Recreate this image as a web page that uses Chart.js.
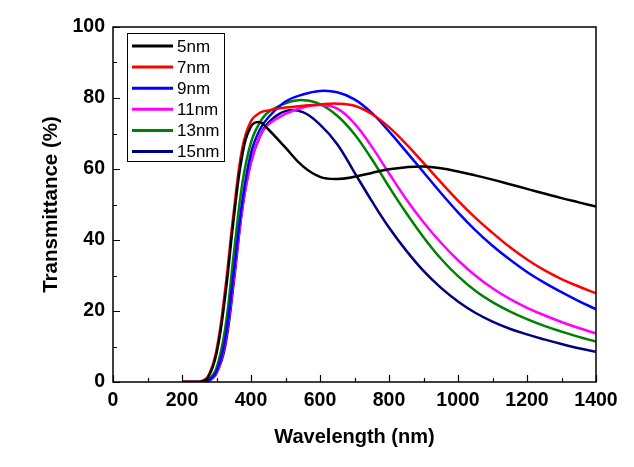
<!DOCTYPE html>
<html>
<head>
<meta charset="utf-8">
<script src="https://cdn.jsdelivr.net/npm/chart.js@4.4.1/dist/chart.umd.min.js"></script>
<style>
html,body{margin:0;padding:0;background:#fff;}
#wrap{width:634px;height:467px;}
</style>
</head>
<body>
<div id="wrap"><canvas id="c" width="634" height="467"></canvas></div>
<script>
const wavelengths = [200, 225, 250, 275, 300, 325, 350, 375, 400, 425, 450, 500, 550, 600, 650, 700, 750, 800, 850, 900, 950, 1000, 1050, 1100, 1150, 1200, 1250, 1300, 1350, 1400];
const seriesLabels = ['5nm', '7nm', '9nm', '11nm', '13nm', '15nm'];
const seriesColors = ['#000000', '#ff0000', '#0000ff', '#ff00ff', '#008000', '#000080'];
const t5nm  = [0, 0, 0, 1.2, 8, 24, 46, 64, 72, 73.2, 71.2, 66, 60.8, 57.8, 57.2, 57.8, 58.9, 59.9, 60.5, 60.7, 60.2, 59.3, 58.2, 57, 55.7, 54.4, 53.1, 51.8, 50.6, 49.4];
const t7nm  = [0, 0, 0, 1.5, 9, 26, 48, 66, 73.5, 75.8, 76.5, 77.3, 77.8, 78.2, 78.4, 77.8, 75.5, 71.8, 67, 61.7, 56.3, 51.1, 46.3, 42, 38, 34.5, 31.5, 29, 26.9, 25];
const t9nm  = [0, 0, 0, 0.3, 3, 12, 31, 51, 64.5, 71, 74.5, 79, 81, 82, 81.6, 79.6, 75.8, 70.6, 64.9, 59.1, 53.3, 47.8, 42.8, 38.4, 34.5, 31, 28, 25.3, 22.8, 20.5];
const t11nm = [0, 0, 0, 0.2, 2.5, 11, 29, 49, 62, 69, 72.5, 75.5, 77.3, 78, 77, 72.8, 66.3, 58.8, 51.5, 45, 39.3, 34.3, 30, 26.4, 23.4, 20.9, 18.8, 16.9, 15.2, 13.7];
const t13nm = [0, 0, 0, 0.5, 4, 15, 36, 56, 67.5, 73, 76, 78.5, 79.4, 78.3, 75, 69.8, 62.8, 55, 47.6, 40.8, 34.8, 29.8, 25.7, 22.5, 19.9, 17.7, 15.8, 14.2, 12.7, 11.4];
const t15nm = [0, 0, 0, 0.2, 2.5, 10, 28, 49, 62, 69, 73, 76.3, 76, 72.5, 67, 59, 51, 43.5, 37, 31.3, 26.6, 22.7, 19.5, 17, 15, 13.4, 12, 10.7, 9.5, 8.5];
const seriesValues = [t5nm, t7nm, t9nm, t11nm, t13nm, t15nm];
const xTicks = [0, 200, 400, 600, 800, 1000, 1200, 1400];
const yTicks = [0, 20, 40, 60, 80, 100];

const datasets = seriesLabels.map((lab, i) => ({
  label: lab,
  data: wavelengths.map((w, j) => ({x: w, y: seriesValues[i][j]})),
  borderColor: seriesColors[i],
  backgroundColor: seriesColors[i],
  borderWidth: 2.5,
  pointRadius: 0,
  tension: 0.4,
  fill: false
}));

const framePlugin = {
  id: 'frame',
  afterDatasetsDraw(chart) {
    const ctx = chart.ctx;
    const a = chart.chartArea;
    const xs = chart.scales.x, ys = chart.scales.y;
    ctx.save();
    ctx.strokeStyle = '#000';
    ctx.lineWidth = 1.5;
    ctx.strokeRect(a.left, a.top, a.right - a.left, a.bottom - a.top);
    ctx.lineWidth = 1.2;
    ctx.beginPath();
    for (let v = 0; v <= 1400; v += 100) {
      const px = Math.round(xs.getPixelForValue(v)) + 0.5;
      const len = (v % 200 === 0) ? 7 : 4;
      ctx.moveTo(px, a.bottom);
      ctx.lineTo(px, a.bottom - len);
    }
    for (let v = 0; v <= 100; v += 10) {
      const py = Math.round(ys.getPixelForValue(v)) + 0.5;
      const len = (v % 20 === 0) ? 7 : 4;
      ctx.moveTo(a.left, py);
      ctx.lineTo(a.left + len, py);
    }
    ctx.stroke();

    // legend box
    const bx = 127, by = 33, bw = 97, bh = 128;
    ctx.fillStyle = '#fff';
    ctx.fillRect(bx, by, bw, bh);
    ctx.lineWidth = 1;
    ctx.strokeStyle = '#000';
    ctx.strokeRect(bx + 0.5, by + 0.5, bw, bh);
    ctx.font = '17px "Liberation Sans", Arial, sans-serif';
    ctx.textBaseline = 'middle';
    ctx.textAlign = 'left';
    chart.data.datasets.forEach((ds, i) => {
      const y = 46 + i * 21.1;
      ctx.strokeStyle = ds.borderColor;
      ctx.lineWidth = 3;
      ctx.beginPath();
      ctx.moveTo(132, y);
      ctx.lineTo(173, y);
      ctx.stroke();
      ctx.fillStyle = '#000';
      ctx.fillText(ds.label, 177, y + 1);
    });
    ctx.restore();
  }
};

new Chart(document.getElementById('c'), {
  type: 'line',
  data: { datasets },
  options: {
    responsive: false,
    animation: false,
    layout: { padding: { left: 0, right: 38, top: 27, bottom: 0 } },
    plugins: { legend: { display: false }, tooltip: { enabled: false } },
    scales: {
      x: {
        type: 'linear', min: 0, max: 1400,
        afterBuildTicks(s) { s.ticks = xTicks.map(v => ({value: v})); },
        afterFit(s) { s.height = 85; },
        grid: { display: false, drawTicks: false },
        border: { display: false },
        ticks: { color: '#000', padding: 7, maxRotation: 0, autoSkip: false,
                 callback: (v) => String(v),
                 font: { family: '"Liberation Sans", Arial, sans-serif', size: 19.5, weight: 'bold' } },
        title: { display: true, text: 'Wavelength (nm)', color: '#000',
                 padding: { top: 18, bottom: 18 },
                 font: { family: '"Liberation Sans", Arial, sans-serif', size: 20, weight: 'bold' } }
      },
      y: {
        min: 0, max: 100,
        afterBuildTicks(s) { s.ticks = yTicks.map(v => ({value: v})); },
        afterFit(s) { s.width = 113; },
        grid: { display: false, drawTicks: false },
        border: { display: false },
        ticks: { color: '#000', padding: 8,
                 callback: (v) => String(v),
                 font: { family: '"Liberation Sans", Arial, sans-serif', size: 19.5, weight: 'bold' } },
        title: { display: true, text: 'Transmittance (%)', color: '#000',
                 padding: { top: 39, bottom: 39 },
                 font: { family: '"Liberation Sans", Arial, sans-serif', size: 20.5, weight: 'bold' } }
      }
    }
  },
  plugins: [framePlugin]
});
</script>
</body>
</html>
